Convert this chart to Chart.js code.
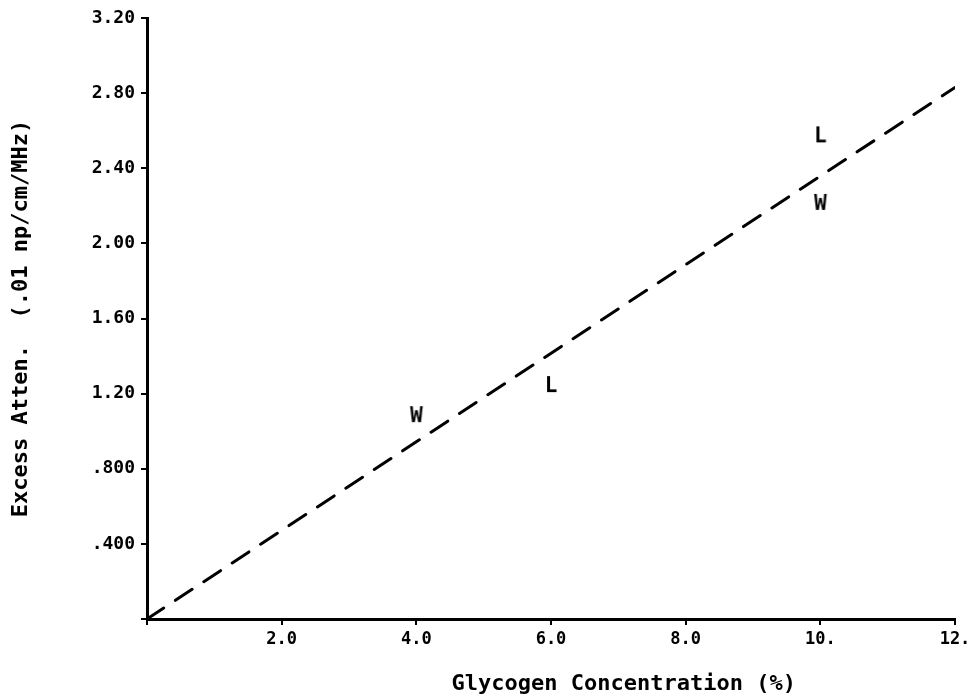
<!DOCTYPE html>
<html>
<head>
<meta charset="utf-8">
<script src="https://cdn.jsdelivr.net/npm/chart.js@4"></script>
<style>
  html, body { margin: 0; padding: 0; background: #fff; overflow: hidden; }
  #wrap { width: 969px; height: 699px; }
</style>
</head>
<body>
<div id="wrap"><canvas id="chart"></canvas></div>
<script>
// data
const wX = [4, 10];
const wY = [1.08, 2.21];
const lX = [6, 10];
const lY = [1.24, 2.57];
const fitX = [0, 12];
const fitY = [0, 2.83];

const xTicks = [0, 2, 4, 6, 8, 10, 12];
const xTickLabels = ['', '2.0', '4.0', '6.0', '8.0', '10.', '12.'];
const yTicks = [0, 0.4, 0.8, 1.2, 1.6, 2.0, 2.4, 2.8, 3.2];
const yTickLabels = ['', '.400', '.800', '1.20', '1.60', '2.00', '2.40', '2.80', '3.20'];

const xTitle = 'Glycogen Concentration (%)';
const yTitle = 'Excess Atten.  (.01 np/cm/MHz)';

// letter markers used as point styles
function letter(ch) {
    const c = document.createElement('canvas');
    c.width = 22; c.height = 22;
    const g = c.getContext('2d');
    g.fillStyle = '#000';
    g.font = 'bold 21px "DejaVu Sans Mono"';
    g.textAlign = 'center';
    g.textBaseline = 'middle';
    g.fillText(ch, 11, 12);
    return c;
}

const toPts = (xs, ys) => xs.map((x, i) => ({ x: x, y: ys[i] }));

// x title sits right of centre in the original
const xTitlePlugin = {
    id: 'xTitle',
    afterDraw(chart) {
        const { ctx, chartArea } = chart;
        ctx.save();
        ctx.fillStyle = '#000';
        ctx.font = 'bold 22px "DejaVu Sans Mono"';
        ctx.textAlign = 'center';
        ctx.textBaseline = 'middle';
        ctx.fillText(xTitle, chartArea.left + (chartArea.right - chartArea.left) * 0.59, 684);
        ctx.restore();
    }
};

const bgPlugin = {
    id: 'bg',
    beforeDraw(chart) {
        const ctx = chart.ctx;
        ctx.save();
        ctx.fillStyle = '#fff';
        ctx.fillRect(0, 0, chart.width, chart.height);
        ctx.restore();
    }
};

new Chart(document.getElementById('chart'), {
    type: 'scatter',
    data: {
        datasets: [
            {
                type: 'line',
                data: toPts(fitX, fitY),
                borderColor: '#000',
                borderWidth: 3,
                borderDash: [20, 14],
                borderCapStyle: 'round',
                pointRadius: 0,
                fill: false
            },
            {
                data: toPts(wX, wY),
                pointStyle: letter('W'),
                pointRadius: 11
            },
            {
                data: toPts(lX, lY),
                pointStyle: letter('L'),
                pointRadius: 11
            }
        ]
    },
    options: {
        responsive: true,
        maintainAspectRatio: false,
        animation: false,
        layout: { padding: { left: 0, right: 14, top: 18, bottom: 0 } },
        plugins: {
            legend: { display: false },
            tooltip: { enabled: false }
        },
        scales: {
            x: {
                type: 'linear',
                min: 0,
                max: 12,
                afterBuildTicks: axis => { axis.ticks = xTicks.map(v => ({ value: v })); },
                afterFit: axis => { axis.height = 80; axis.paddingRight = 0; axis.paddingLeft = 0; },
                ticks: {
                    color: '#000',
                    padding: 4,
                    maxRotation: 0,
                    font: { family: 'DejaVu Sans Mono', size: 17, weight: 'bold' },
                    callback: v => xTickLabels[xTicks.indexOf(v)]
                },
                grid: { drawOnChartArea: false, color: '#000', lineWidth: 2, tickLength: 6 },
                border: { color: '#000', width: 3 }
            },
            y: {
                type: 'linear',
                min: 0,
                max: 3.2,
                afterBuildTicks: axis => { axis.ticks = yTicks.map(v => ({ value: v })); },
                afterFit: axis => { axis.width = 147; },
                ticks: {
                    color: '#000',
                    padding: 6,
                    font: { family: 'DejaVu Sans Mono', size: 18, weight: 'bold' },
                    callback: v => yTickLabels[yTicks.findIndex(t => Math.abs(t - v) < 1e-9)]
                },
                grid: { drawOnChartArea: false, color: '#000', lineWidth: 2, tickLength: 6 },
                border: { color: '#000', width: 3 },
                title: {
                    display: true,
                    text: yTitle,
                    color: '#000',
                    padding: { top: 8, bottom: 4 },
                    font: { family: 'DejaVu Sans Mono', size: 22, weight: 'bold' }
                }
            }
        }
    },
    plugins: [bgPlugin, xTitlePlugin]
});
</script>
</body>
</html>
